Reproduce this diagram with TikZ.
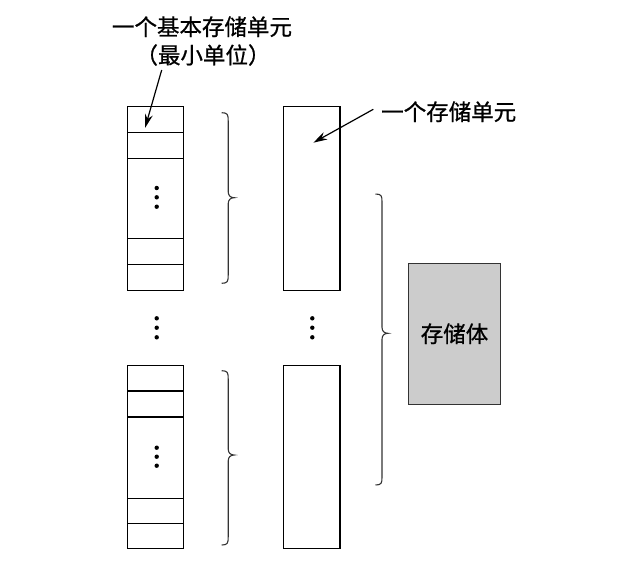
\documentclass[tikz,border=0pt]{standalone}
\usepackage{fontspec}
\newfontfamily\cjk[FakeBold=0.8]{Noto Sans CJK SC}
\usetikzlibrary{arrows.meta}
\definecolor{boxgray}{HTML}{CCCCCC}
\tikzset{
  cell/.style={draw=black, line width=1.3pt, fill=white},
  sep/.style={line width=1.2pt},
  lbl/.style={font=\cjk\fontsize{22.5}{27}\selectfont, inner sep=0pt, align=center},
  pointer/.style={-{Stealth[length=14pt,width=8pt]}, line width=1.2pt},
  brc/.style={line width=1.1pt, draw=black!80},
  vdot/.style={circle, fill=black, inner sep=0pt, minimum size=4.4pt},
  bank/.style={draw=black!80, line width=1.4pt, fill=boxgray, minimum width=92pt, minimum height=141pt, inner sep=0pt}
}
\newcommand{\drawbrace}[4]{% x0, ytop, ymid, ybottom
  \draw[brc] (#1,#2) .. controls (#1+6,#2) and (#1+6.5,#2+2) .. (#1+6.5,#2+8)
    -- (#1+6.5,#3-6) .. controls (#1+6.5,#3-2) and (#1+9,#3) .. (#1+12.5,#3)
    .. controls (#1+9,#3) and (#1+6.5,#3+2) .. (#1+6.5,#3+6)
    -- (#1+6.5,#4-8) .. controls (#1+6.5,#4-2) and (#1+6,#4) .. (#1,#4);}
\begin{document}
\begin{tikzpicture}[x=1pt,y=-1pt]
\useasboundingbox (0,0) rectangle (644,560);

% left columns (basic cells)
\node[cell, minimum width=56pt, minimum height=184pt, inner sep=0pt] (lc1) at (155.3,198.7) {};
\foreach \yy in {132.3,158.3,238.3,264.3} \draw[sep] (127.3,\yy) -- (183.3,\yy);
\node[cell, minimum width=56pt, minimum height=182.6pt, inner sep=0pt] (lc2) at (155.3,457) {};
\foreach \yy in {391,417,498.3,523.7} \draw[sep] (127.3,\yy) -- (183.3,\yy);

% right columns (storage units)
\node[cell, minimum width=56.7pt, minimum height=184pt, inner sep=0pt] (rc1) at (311.7,198.7) {};
\node[cell, minimum width=56.7pt, minimum height=182.6pt, inner sep=0pt] (rc2) at (311.7,457) {};

% dots
\foreach \yy in {188,197.3,206.7} \node[vdot] at (156.7,\yy) {};
\foreach \yy in {447.7,456.7,465.7} \node[vdot] at (156.7,\yy) {};
\foreach \yy in {318.3,327.7,337.3} \node[vdot] at (156.7,\yy) {};
\foreach \yy in {318.3,327.7,337.3} \node[vdot] at (312.3,\yy) {};

% braces
\drawbrace{221.7}{112.7}{197.7}{283.3}
\drawbrace{221.7}{370.7}{455}{545}
\drawbrace{375.5}{194}{333.3}{485}

% storage bank
\node[bank, lbl] (bank) at (454.5,333.7) {存储体};

% labels
\node[lbl] (lab1) at (202,26.7) {一个基本存储单元};
\node[lbl] (lab1b) at (203,55) {（最小单位）};
\node[lbl, anchor=west] (lab2) at (381,111.7) {一个存储单元};

\coordinate (a1s) at (161.7,70);
\coordinate (a1e) at (145,128);
\coordinate (a2s) at (373.3,109.3);
\coordinate (a2e) at (313.3,142.7);
\draw[pointer] (a1s) -- (a1e);
\draw[pointer] (a2s) -- (a2e);
\end{tikzpicture}
\end{document}
